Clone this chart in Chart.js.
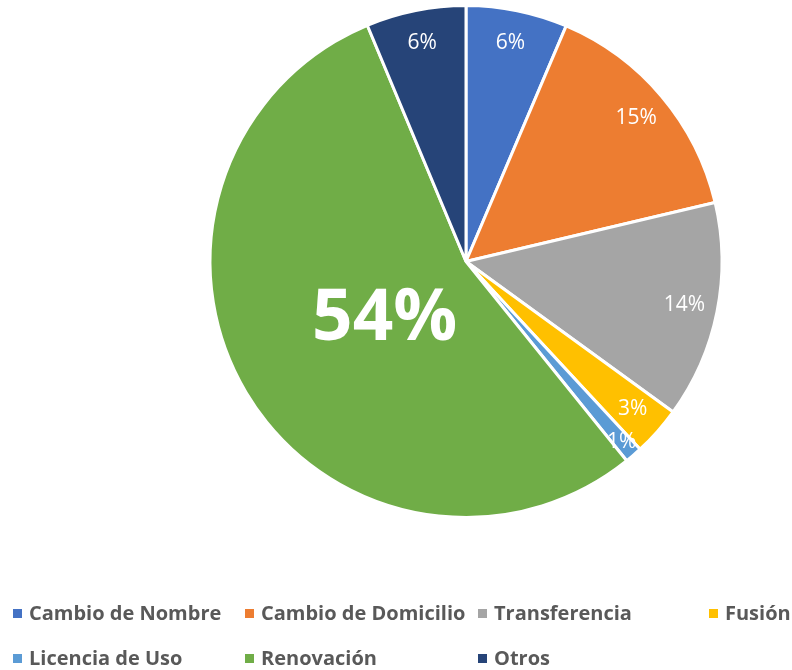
<!DOCTYPE html>
<html>
<head>
<meta charset="utf-8">
<script src="https://cdn.jsdelivr.net/npm/chart.js@4"></script>
<style>
  html, body { margin: 0; padding: 0; background: #fff; }
  #wrap { position: relative; width: 792px; height: 670px; }
  #c { position: absolute; left: 0; top: 0; }
  .lg { position: absolute; font-family: "Open Sans", sans-serif; font-weight: bold; font-size: 20px; color: #595959; white-space: nowrap; line-height: 20px; }
  .lg span.m { position: absolute; width: 9px; height: 9px; left: -16px; top: 6px; }
</style>
</head>
<body>
<div id="wrap">
  <canvas id="c" width="792" height="670"></canvas>
</div>
<script>
const categories = ["Cambio de Nombre", "Cambio de Domicilio", "Transferencia", "Fusión", "Licencia de Uso", "Renovación", "Otros"];
const shares = [6.4, 14.9, 13.7, 3.1, 1.1, 54.5, 6.3];
const colors = ["#4472C4", "#ED7D31", "#A5A5A5", "#FFC000", "#5B9BD5", "#70AD47", "#264478"];
const pctLabels = ["6%", "15%", "14%", "3%", "1%", "54%", "6%"];

// legend layout (columns / rows)
const legendCols = [29, 261, 494, 725];
const legendRows = [603, 648];
const wrap = document.getElementById('wrap');
categories.forEach((name, i) => {
  const d = document.createElement('div');
  d.className = 'lg';
  d.style.left = legendCols[i % 4] + 'px';
  d.style.top = legendRows[Math.floor(i / 4)] + 'px';
  d.innerHTML = '<span class="m" style="background:' + colors[i] + '"></span>' + name;
  wrap.appendChild(d);
});

const labelPlugin = {
  id: 'sliceLabels',
  afterDatasetsDraw(chart) {
    const ctx = chart.ctx;
    const meta = chart.getDatasetMeta(0);
    const total = shares.reduce((a, b) => a + b, 0);
    meta.data.forEach((arc, i) => {
      const big = shares[i] / total > 0.5;
      const small = shares[i] / total < 0.02;
      const mid = (arc.startAngle + arc.endAngle) / 2;
      const f = big ? 0.37 : (small ? 0.93 : 0.87);
      const r = arc.outerRadius * f;
      const x = arc.x + Math.cos(mid) * r;
      const y = arc.y + Math.sin(mid) * r + (big ? 10 : 0);
      ctx.save();
      ctx.fillStyle = '#ffffff';
      ctx.textAlign = 'center';
      ctx.textBaseline = 'middle';
      ctx.font = big ? 'bold 71px "Open Sans", sans-serif' : '21px "Open Sans", sans-serif';
      ctx.fillText(pctLabels[i], x, y);
      ctx.restore();
    });
  }
};

new Chart(document.getElementById('c'), {
  type: 'pie',
  data: {
    labels: categories,
    datasets: [{
      data: shares,
      backgroundColor: colors,
      borderColor: '#ffffff',
      borderWidth: 3
    }]
  },
  options: {
    responsive: false,
    animation: false,
    layout: { padding: { top: 4, bottom: 151, left: 140, right: 0 } },
    plugins: {
      legend: { display: false },
      tooltip: { enabled: false }
    }
  },
  plugins: [labelPlugin]
});
</script>
</body>
</html>
